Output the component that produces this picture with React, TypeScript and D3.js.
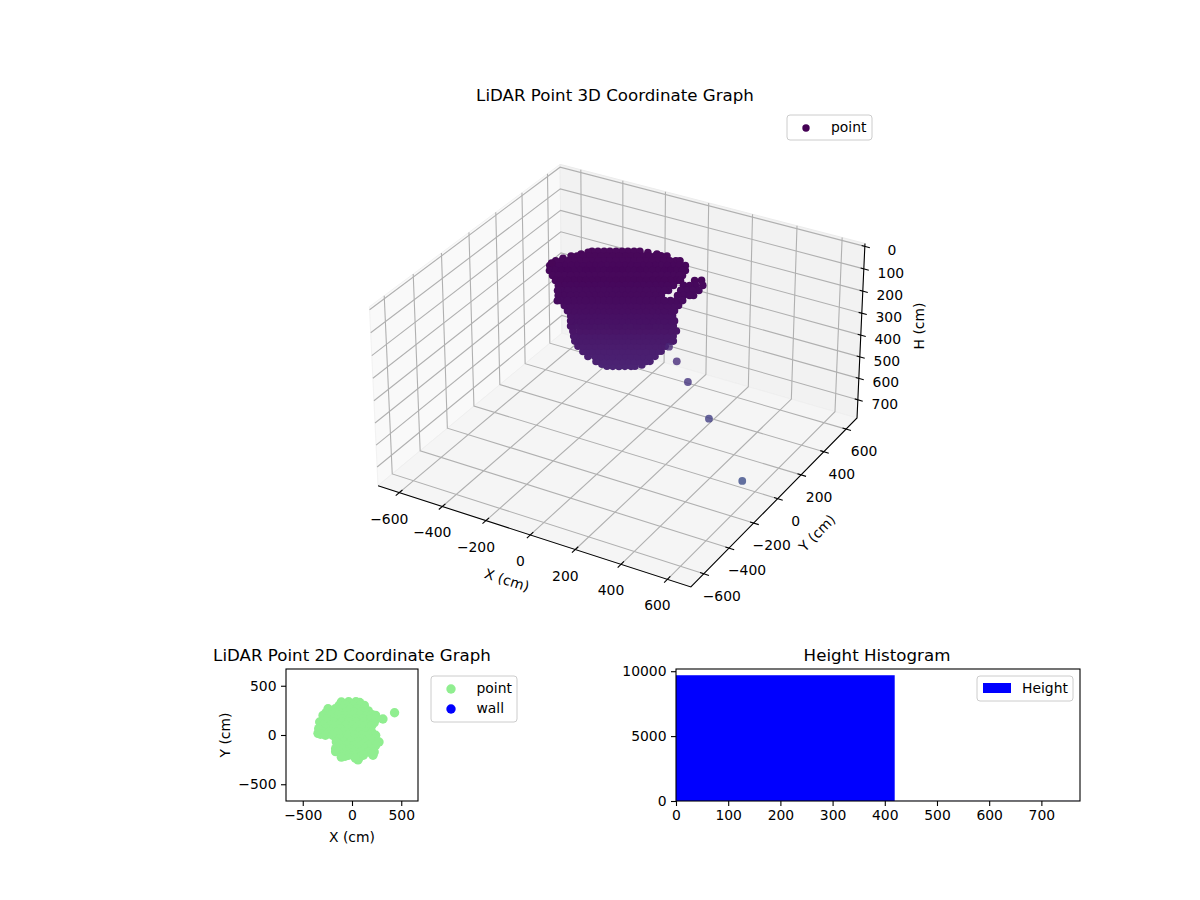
import React, { useEffect, useRef } from "react";
import * as d3 from "d3";

const FONT = "'DejaVu Sans', sans-serif";

// 3D view, ticks
const xTicks3d = [-600, -400, -200, 0, 200, 400, 600];
const yTicks3d = [-600, -400, -200, 0, 200, 400, 600];
const hTicks3d = [0, 100, 200, 300, 400, 500, 600, 700];

// cloud: one height per layer, [x, y] points in that layer
const cloudHeights = [10, 12, 15, 20, 25, 30, 40, 50, 60, 75, 90, 105, 125, 145, 165, 185, 205, 225, 250, 270, 295, 320, 340, 365, 385];
const cloudLayers: number[][][] = [
  [[-219,144],[-199,156],[-178,168],[-158,179],[-137,191],[-117,203],[-97,215],[-76,227],[-56,238]],
  [[-246,105],[-230,132],[-25,247],[12,254],[-289,39],[-308,-16]],
  [[-275,77],[-255,89],[-234,100],[-214,112],[-194,124],[-173,136],[-153,148],[-133,159],[-112,171],[-92,183],[-71,195],[-51,206],[-31,218],[-10,230],[10,242],[30,254],[51,265]],
  [[-311,20],[-291,32],[-270,44],[-250,56],[-230,68],[-209,79],[-189,91],[-168,103],[-148,115],[-128,126],[-107,138],[-87,150],[-67,162],[-46,174],[-26,185],[-6,197],[15,209],[35,221],[55,232],[76,244],[96,256],[110,264]],
  [[-316,-17],[-305,-11],[-285,0],[-265,12],[-244,24],[-224,36],[-203,47],[-183,59],[-163,71],[-142,83],[-122,95],[-102,106],[-81,118],[-61,130],[-40,142],[-20,153],[0,165],[21,177],[41,189],[61,201],[82,212],[102,224],[123,236],[143,248]],
  [[-301,-44],[-280,-32],[-260,-21],[-239,-9],[-219,3],[-199,15],[-178,26],[-158,38],[-138,50],[-117,62],[-97,73],[-76,85],[-56,97],[-36,109],[-15,121],[5,132],[25,144],[46,156],[66,168],[87,179],[107,191],[127,203],[148,215],[158,221]],
  [[-279,-57],[-259,-46],[-239,-34],[-218,-22],[-198,-10],[-177,1],[-157,13],[-137,25],[-116,37],[-96,49],[-76,60],[-55,72],[-35,84],[-14,96],[6,107],[26,119],[47,131],[67,143],[87,155],[108,166],[128,178],[149,190],[159,196]],
  [[-258,-70],[-238,-59],[-217,-47],[-197,-35],[-177,-23],[-156,-12],[-136,0],[-116,12],[-95,24],[-75,35],[-54,47],[-34,59],[-14,71],[7,83],[27,94],[48,106],[68,118],[88,130],[109,141],[129,153],[149,165],[163,173],[211,200],[234,214]],
  [[-237,-84],[-217,-72],[-196,-60],[-176,-48],[-155,-37],[-135,-25],[-115,-13],[-94,-1],[-74,11],[-54,22],[-33,34],[-13,46],[8,58],[28,69],[48,81],[69,93],[89,105],[109,117],[130,128],[150,140],[184,160],[205,171],[225,183],[249,197]],
  [[-233,-97],[-220,-89],[-199,-77],[-179,-65],[-159,-53],[-138,-42],[-118,-30],[-98,-18],[-77,-6],[-57,5],[-36,17],[-16,29],[4,41],[25,53],[45,64],[66,76],[86,88],[106,100],[127,111],[140,119],[181,143],[201,155],[222,166],[242,178]],
  [[-224,-107],[-204,-95],[-183,-83],[-163,-71],[-142,-60],[-122,-48],[-102,-36],[-81,-24],[-61,-12],[-41,-1],[-20,11],[0,23],[21,35],[41,46],[61,58],[82,70],[102,82],[122,94],[177,125],[197,137],[218,148],[231,156]],
  [[-220,-121],[-207,-113],[-186,-101],[-166,-89],[-146,-77],[-125,-66],[-105,-54],[-85,-42],[-64,-30],[-44,-19],[-23,-7],[-3,5],[17,17],[38,29],[58,40],[79,52],[99,64],[119,76],[140,87],[160,99],[180,111],[201,123]],
  [[-195,-110],[-174,-98],[-154,-86],[-133,-75],[-113,-63],[-93,-51],[-72,-39],[-52,-27],[-32,-16],[-11,-4],[9,8],[30,20],[50,31],[70,43],[91,55],[111,67],[131,79],[152,90],[172,102],[189,112]],
  [[-182,-108],[-162,-96],[-142,-84],[-121,-73],[-101,-61],[-81,-49],[-60,-37],[-40,-26],[-19,-14],[1,-2],[21,10],[42,22],[62,33],[83,45],[103,57],[123,69],[144,80],[164,92],[178,100]],
  [[-169,-106],[-149,-94],[-128,-83],[-108,-71],[-88,-59],[-67,-47],[-47,-35],[-27,-24],[-6,-12],[14,0],[35,12],[55,23],[75,35],[96,47],[116,59],[136,71],[157,82],[174,92]],
  [[-167,-110],[-157,-104],[-137,-92],[-116,-81],[-96,-69],[-75,-57],[-55,-45],[-35,-34],[-14,-22],[6,-10],[26,2],[47,14],[67,25],[88,37],[108,49],[128,61],[149,72],[169,84],[183,92]],
  [[-165,-114],[-145,-102],[-124,-91],[-104,-79],[-84,-67],[-63,-55],[-43,-43],[-23,-32],[-2,-20],[18,-8],[39,4],[59,15],[79,27],[100,39],[120,51],[140,63],[161,74],[181,86]],
  [[-155,-114],[-132,-100],[-111,-89],[-91,-77],[-71,-65],[-50,-53],[-30,-42],[-9,-30],[11,-18],[31,-6],[52,6],[72,17],[93,29],[113,41],[133,53],[154,64],[174,76],[194,88]],
  [[-155,-108],[-145,-102],[-124,-91],[-104,-79],[-84,-67],[-63,-55],[-43,-43],[-23,-32],[-2,-20],[18,-8],[39,4],[59,15],[79,27],[100,39],[120,51],[140,63],[161,74],[181,86]],
  [[-149,-110],[-132,-100],[-111,-89],[-91,-77],[-71,-65],[-50,-53],[-30,-42],[-9,-30],[11,-18],[31,-6],[52,6],[72,17],[93,29],[113,41],[133,53],[154,64],[174,76],[184,82]],
  [[-140,-101],[-123,-92],[-103,-80],[-83,-68],[-62,-56],[-42,-44],[-22,-33],[-1,-21],[19,-9],[40,3],[60,14],[80,26],[101,38],[121,50],[141,62],[155,69]],
  [[-125,-89],[-115,-83],[-95,-71],[-75,-59],[-54,-47],[-34,-36],[-13,-24],[7,-12],[27,0],[48,12],[68,23],[89,35],[109,47],[129,59],[139,65]],
  [[-106,-83],[-83,-69],[-62,-57],[-42,-45],[-22,-34],[-1,-22],[19,-10],[40,2],[60,13],[80,25],[101,37],[121,49]],
  [[-81,-63],[-75,-59],[-54,-47],[-34,-36],[-13,-24],[7,-12],[27,0],[48,12],[68,23],[89,35],[102,43]],
  [[-67,-41],[-42,-45],[-22,-34],[-1,-22],[19,-10],[40,2],[53,10],[71,33]],
];
// the few stray returns below the cloud: x, y, h
const strayPoints = [[55,281,430],[97,270,480],[157,255,550],[295,180,640],[539,8,760]];

// 2D scatter, x and y in cm
const groundPoints = [
  [-108,335],[-34,338],[40,338],[78,330],
  [-130,301],[-60,301],[15,301],[90,301],[125,300],
  [-243,267],[-169,267],[-95,267],[-20,267],[54,267],[128,267],[165,245],
  [-205,233],[-130,233],[-55,233],[15,233],[90,233],[-265,225],
  [-294,199],[-220,199],[-145,199],[-71,199],[3,199],[78,199],[152,199],[205,205],[240,199],
  [-255,165],[-180,165],[-105,165],[-30,165],[40,165],[115,165],[190,165],[250,165],[314,162],
  [-328,132],[-254,132],[-179,132],[-105,132],[-30,132],[44,132],[118,132],[193,132],[225,125],
  [-290,98],[-215,98],[-140,98],[-65,98],[5,98],[80,98],[155,98],[200,95],
  [-338,64],[-264,64],[-189,64],[-115,64],[-41,64],[34,64],[108,64],[179,64],
  [-300,30],[-225,30],[-150,30],[-80,30],[-5,30],[70,30],[145,30],[200,30],
  [-345,17],[-320,8],
  [-270,-3],[-196,-3],[-122,-3],[-47,-3],[27,-3],[101,-3],[176,-3],[240,-3],
  [-160,-37],[-120,-37],[-45,-37],[30,-37],[100,-37],[175,-37],[235,-37],
  [-159,-71],[-85,-71],[-10,-71],[64,-71],[139,-71],[213,-71],[274,-71],
  [-125,-105],[-50,-105],[20,-105],[95,-105],[170,-105],[240,-105],
  [-166,-139],[-91,-139],[-17,-139],[57,-139],[132,-139],[206,-139],
  [-166,-169],[-130,-172],[-55,-172],[20,-172],[95,-172],[170,-172],[225,-172],
  [-108,-206],[-34,-206],[41,-206],[115,-206],[213,-206],[-70,-215],[75,-225],
  [-108,-225],[61,-253],[35,-235],
  [432,226],
];
const groundTicks = [-500, 0, 500];

// histogram
const histEdges = [0, 419, 774];
const histCounts = [9690, 5];
const histXTicks = [0, 100, 200, 300, 400, 500, 600, 700];
const histYTicks = [0, 5000, 10000];

// view geometry of the 3D box (elev 30, azim -60, dist 10)
const toBoxX = d3.scaleLinear().domain([-700, 700]).range([-0.595, 0.595]);
const toBoxY = d3.scaleLinear().domain([-700, 700]).range([-0.595, 0.595]);
const toBoxZ = d3.scaleLinear().domain([786, -13]).range([-0.339, 0.339]);
const screenX = d3.scaleLinear().domain([-0.08144, 0.07846]).range([378, 857]);
const screenY = d3.scaleLinear().domain([-0.07398, 0.0659]).range([587, 166]);

const X_MIN = -700, X_MAX = 700, Y_MIN = -700, Y_MAX = 700, H_FLOOR = 786, H_TOP = -13;

const depthOf = (x: number, y: number, h: number) =>
  0.433 * toBoxX(x) - 0.75 * toBoxY(y) + 0.5 * toBoxZ(h);

const project = (x: number, y: number, h: number): [number, number] => {
  const dx = toBoxX(x), dy = toBoxY(y), dz = toBoxZ(h);
  const d = 10 - depthOf(x, y, h);
  const px = 0.866 * dx + 0.5 * dy;
  const py = -0.25 * dx + 0.433 * dy + 0.866 * dz;
  return [screenX(px / d), screenY(py / d)];
};

const path3d = (pts: number[][]) =>
  d3.line()(pts.map((p) => project(p[0], p[1], p[2]))) as string;

const poly3d = (pts: number[][]) => path3d(pts) + "Z";

// viridis low end only, the strays sit further along it than the cloud
const colorT = d3.scaleLinear().domain([-40, 400, 800]).range([0, 0.09, 0.25]);

const cloud = cloudLayers.flatMap((layer, i) =>
  layer.map((p) => [p[0], p[1], cloudHeights[i]])
);
const cloudSorted = d3.sort(cloud, (p) => depthOf(p[0], p[1], p[2]));

// depth shading mixed into the fill so stacked dots stay smooth
const shade = d3.scaleLinear().domain([-0.1, 0.1]).range([0.96, 1]).clamp(true);
const pointColor = (p: number[]) =>
  d3.interpolateRgb("#f5f5f5", d3.interpolateViridis(colorT(p[2])))(shade(depthOf(p[0], p[1], p[2])));

const groundX = d3.scaleLinear().domain([-670, 670]).range([286, 418]);
const groundY = d3.scaleLinear().domain([-670, 670]).range([801, 669]);
const histX = d3.scaleLinear().domain([0, 774]).range([676, 1080]);
const histY = d3.scaleLinear().domain([0, 10170]).range([801, 669]);

function Legend({ x, y, w, h }: { x: number; y: number; w: number; h: number }) {
  return <rect x={x} y={y} width={w} height={h} rx={3} fill="#fff" fillOpacity={0.8} stroke="#ccc" strokeWidth={1} />;
}

export default function App() {
  const ref = useRef<SVGSVGElement>(null);

  useEffect(() => {
    const svg = d3.select(ref.current);
    const put = (sel: string, axis: any) => {
      const g = svg.select(sel).call(axis.tickFormat(d3.format("d")));
      g.selectAll("text").attr("font-family", FONT).attr("font-size", 13.9).attr("fill", "#000");
      g.selectAll("line").attr("stroke", "#000").attr("stroke-width", 1.1);
      g.select(".domain").remove();
    };
    put(".g-x", d3.axisBottom(groundX).tickValues(groundTicks).tickSize(5).tickPadding(4.5));
    put(".g-y", d3.axisLeft(groundY).tickValues(groundTicks).tickSize(5).tickPadding(4.5));
    put(".h-x", d3.axisBottom(histX).tickValues(histXTicks).tickSize(5).tickPadding(4.5));
    put(".h-y", d3.axisLeft(histY).tickValues(histYTicks).tickSize(5).tickPadding(4.5));
  }, []);

  const txt = { fontFamily: FONT, fontSize: 13.9, fill: "#000" };
  const title = { fontFamily: FONT, fontSize: 16.67, fill: "#000", textAnchor: "middle" as const };
  const minus = d3.format("d");

  return (
    <svg ref={ref} width={1200} height={900} style={{ position: "absolute", left: 0, top: 0, background: "#fff" }}>
      <text x={615} y={101} {...title}>LiDAR Point 3D Coordinate Graph</text>

      {/* panes */}
      <path d={poly3d([[X_MIN,Y_MIN,H_FLOOR],[X_MIN,Y_MAX,H_FLOOR],[X_MIN,Y_MAX,H_TOP],[X_MIN,Y_MIN,H_TOP]])} fill="#f9f9f9" stroke="#f2f2f2" />
      <path d={poly3d([[X_MIN,Y_MAX,H_FLOOR],[X_MAX,Y_MAX,H_FLOOR],[X_MAX,Y_MAX,H_TOP],[X_MIN,Y_MAX,H_TOP]])} fill="#f2f2f2" stroke="#ececec" />
      <path d={poly3d([[X_MIN,Y_MIN,H_FLOOR],[X_MAX,Y_MIN,H_FLOOR],[X_MAX,Y_MAX,H_FLOOR],[X_MIN,Y_MAX,H_FLOOR]])} fill="#f5f5f5" stroke="#efefef" />

      {/* grid */}
      <g fill="none" stroke="#b0b0b0" strokeWidth={1.1}>
        {xTicks3d.map((t) => <path key={"gx" + t} d={path3d([[t,Y_MIN,H_FLOOR],[t,Y_MAX,H_FLOOR],[t,Y_MAX,H_TOP]])} />)}
        {yTicks3d.map((t) => <path key={"gy" + t} d={path3d([[X_MAX,t,H_FLOOR],[X_MIN,t,H_FLOOR],[X_MIN,t,H_TOP]])} />)}
        {hTicks3d.map((t) => <path key={"gh" + t} d={path3d([[X_MAX,Y_MAX,t],[X_MIN,Y_MAX,t],[X_MIN,Y_MIN,t]])} />)}
      </g>

      {/* axis lines and ticks */}
      <g fill="none" stroke="#000" strokeWidth={1.1}>
        <path d={path3d([[X_MIN,Y_MIN,H_FLOOR],[X_MAX,Y_MIN,H_FLOOR],[X_MAX,Y_MAX,H_FLOOR],[X_MAX,Y_MAX,H_TOP]])} />
        {xTicks3d.map((t) => <path key={"tx" + t} d={path3d([[t,Y_MIN-25,H_FLOOR],[t,Y_MIN+22,H_FLOOR]])} />)}
        {yTicks3d.map((t) => <path key={"ty" + t} d={path3d([[X_MAX+22,t,H_FLOOR],[X_MAX-16,t,H_FLOOR]])} />)}
        {hTicks3d.map((t) => <path key={"th" + t} d={path3d([[X_MAX+22,Y_MAX,t],[X_MAX-14,Y_MAX,t]])} />)}
      </g>

      {xTicks3d.map((t) => {
        const [px, py] = project(t, Y_MIN, H_FLOOR);
        return <text key={"lx" + t} x={px - 10} y={py + 31} textAnchor="middle" {...txt}>{minus(t)}</text>;
      })}
      {yTicks3d.map((t) => {
        const [px, py] = project(X_MAX, t, H_FLOOR);
        return <text key={"ly" + t} x={px + 18} y={py + 27} textAnchor="middle" {...txt}>{minus(t)}</text>;
      })}
      {hTicks3d.map((t) => {
        const [px, py] = project(X_MAX, Y_MAX, t);
        return <text key={"lh" + t} x={px + 27} y={py + 9} textAnchor="middle" {...txt}>{t}</text>;
      })}
      <text transform="translate(507,580) rotate(17.7)" textAnchor="middle" dominantBaseline="central" {...txt}>X (cm)</text>
      <text transform="translate(817,533) rotate(-45.5)" textAnchor="middle" dominantBaseline="central" {...txt}>Y (cm)</text>
      <text transform="translate(919,326) rotate(-90)" textAnchor="middle" dominantBaseline="central" {...txt}>H (cm)</text>

      {/* point cloud */}
      <g>
        {cloudSorted.map((p, i) => {
          const [cx, cy] = project(p[0], p[1], p[2]);
          return <circle key={i} cx={cx} cy={cy} r={3.8} fill={pointColor(p)} />;
        })}
        {strayPoints.map((p, i) => {
          const [cx, cy] = project(p[0], p[1], p[2]);
          return <circle key={i} cx={cx} cy={cy} r={3.9} fill={d3.interpolateViridis(colorT(p[2]))} fillOpacity={0.8} />;
        })}
      </g>

      <Legend x={787} y={115} w={85} h={25} />
      <circle cx={806} cy={128} r={3.7} fill={d3.interpolateViridis(0)} />
      <text x={831} y={132} {...txt}>point</text>

      {/* 2D scatter */}
      <g>
        {groundPoints.map((p, i) => <circle key={i} cx={groundX(p[0])} cy={groundY(p[1])} r={4.7} fill="lightgreen" />)}
      </g>
      <rect x={286} y={669} width={132} height={132} fill="none" stroke="#000" strokeWidth={1.1} />
      <g className="g-x" transform="translate(0,801)" />
      <g className="g-y" transform="translate(286,0)" />
      <text x={352} y={661} {...title}>LiDAR Point 2D Coordinate Graph</text>
      <text x={352} y={842} textAnchor="middle" {...txt}>X (cm)</text>
      <text transform="translate(225,735) rotate(-90)" textAnchor="middle" dominantBaseline="central" {...txt}>Y (cm)</text>
      <Legend x={431} y={676} w={86} h={46} />
      <circle cx={451} cy={689} r={4.7} fill="lightgreen" />
      <circle cx={451} cy={709} r={4.7} fill="blue" />
      <text x={476.5} y={693} {...txt}>point</text>
      <text x={476.5} y={713} {...txt}>wall</text>

      {/* histogram */}
      <g>
        {histCounts.map((c, i) => (
          <rect key={i} x={histX(histEdges[i])} y={histY(c)} width={histX(histEdges[i + 1]) - histX(histEdges[i])} height={histY(0) - histY(c)} fill="blue" />
        ))}
      </g>
      <rect x={676} y={669} width={404} height={132} fill="none" stroke="#000" strokeWidth={1.1} />
      <g className="h-x" transform="translate(0,801)" />
      <g className="h-y" transform="translate(676,0)" />
      <text x={877} y={661} {...title}>Height Histogram</text>
      <Legend x={977} y={676} w={96} h={25} />
      <rect x={983} y={683} width={28} height={10} fill="blue" />
      <text x={1022} y={693} {...txt}>Height</text>
    </svg>
  );
}
